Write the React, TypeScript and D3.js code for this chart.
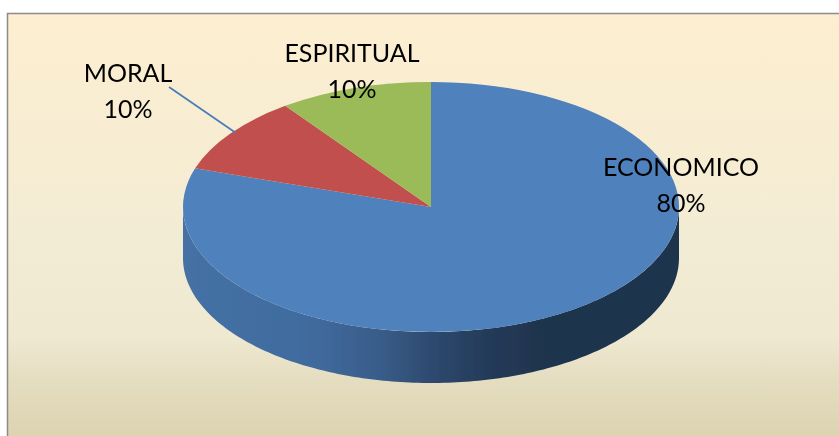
import React from "react";
import * as d3 from "d3";

const categories = ["ECONOMICO", "MORAL", "ESPIRITUAL"];
const values = [80, 10, 10];
const colors = ["#4f81bd", "#c0504d", "#9bbb59"];
const labelText = ["80%", "10%", "10%"];
const labelCenterX = [681, 128, 352];
const labelBaseY = [176, 82, 62];
const LINE_GAP = 36;

const W = 839, H = 436;
const cx = 431, cy = 207, rx = 248, ry = 125, depth = 51;

const bgStops: [number, string][] = [
  [0, "#fdeed0"], [0.5, "#f3ecd4"], [0.74, "#efe9d2"], [0.84, "#e5ddc0"], [1, "#dbd1ae"],
];
const wallStops: [number, string][] = [
  [0, "#4471a5"], [0.26, "#406b9e"], [0.4, "#395c89"], [0.5, "#2e4a6f"], [0.62, "#233a58"], [0.72, "#1f344e"], [1, "#1f344e"],
];

export default function App() {
  const pie = d3.pie<number>().sort(null).startAngle(0).endAngle(2 * Math.PI);
  const arcs = pie(values);
  const arc = d3.arc<d3.PieArcDatum<number>>().innerRadius(0).outerRadius(rx);
  const yScale = ry / rx;

  // Side wall: the front half of the rim, extruded downwards.
  const angles = d3.range(Math.PI / 2, (3 * Math.PI) / 2 + 0.001, Math.PI / 180);
  const wall = d3.area<number>()
    .x((t) => cx + rx * Math.sin(t))
    .y0((t) => cy - ry * Math.cos(t))
    .y1((t) => cy - ry * Math.cos(t) + depth)(angles) as string;

  return (
    <svg
      width={W}
      height={H}
      viewBox={`0 0 ${W} ${H}`}
      style={{ position: "fixed", left: 0, top: 0, display: "block" }}
    >
      <defs>
        <linearGradient id="bg" x1="0" y1="0" x2="0" y2="1">
          {bgStops.map(([o, c]) => <stop key={o} offset={o} stopColor={c} />)}
        </linearGradient>
        <linearGradient id="wall" gradientUnits="userSpaceOnUse" x1={cx - rx} y1="0" x2={cx + rx} y2="0">
          {wallStops.map(([o, c]) => <stop key={o} offset={o} stopColor={c} />)}
        </linearGradient>
        <filter id="soft" x="-2%" y="-2%" width="104%" height="104%">
          <feGaussianBlur stdDeviation={0.5} />
        </filter>
      </defs>
      <rect width={W} height={H} fill="#fff" />
      <rect x={7.5} y={13.5} width={W} height={H} fill="url(#bg)" stroke="#8c8c8c" strokeWidth={1.5} />
      <g filter="url(#soft)">
        <path d={wall} fill="url(#wall)" />
        <g transform={`translate(${cx},${cy}) scale(1,${yScale})`}>
          {arcs.map((a, i) => <path key={categories[i]} d={arc(a) as string} fill={colors[i]} />)}
        </g>
        <line x1={169} y1={87} x2={236} y2={133} stroke="#4a7ebb" strokeWidth={1.8} />
      </g>
      <g filter="url(#soft)">
        {categories.map((c, i) => (
          <text
            key={c}
            textAnchor="middle"
            fontFamily="Lato, 'Open Sans', sans-serif"
            fontSize={25}
            fill="#000"
          >
            <tspan x={labelCenterX[i]} y={labelBaseY[i]}>{c}</tspan>
            <tspan x={labelCenterX[i]} y={labelBaseY[i] + LINE_GAP}>{labelText[i]}</tspan>
          </text>
        ))}
      </g>
    </svg>
  );
}
